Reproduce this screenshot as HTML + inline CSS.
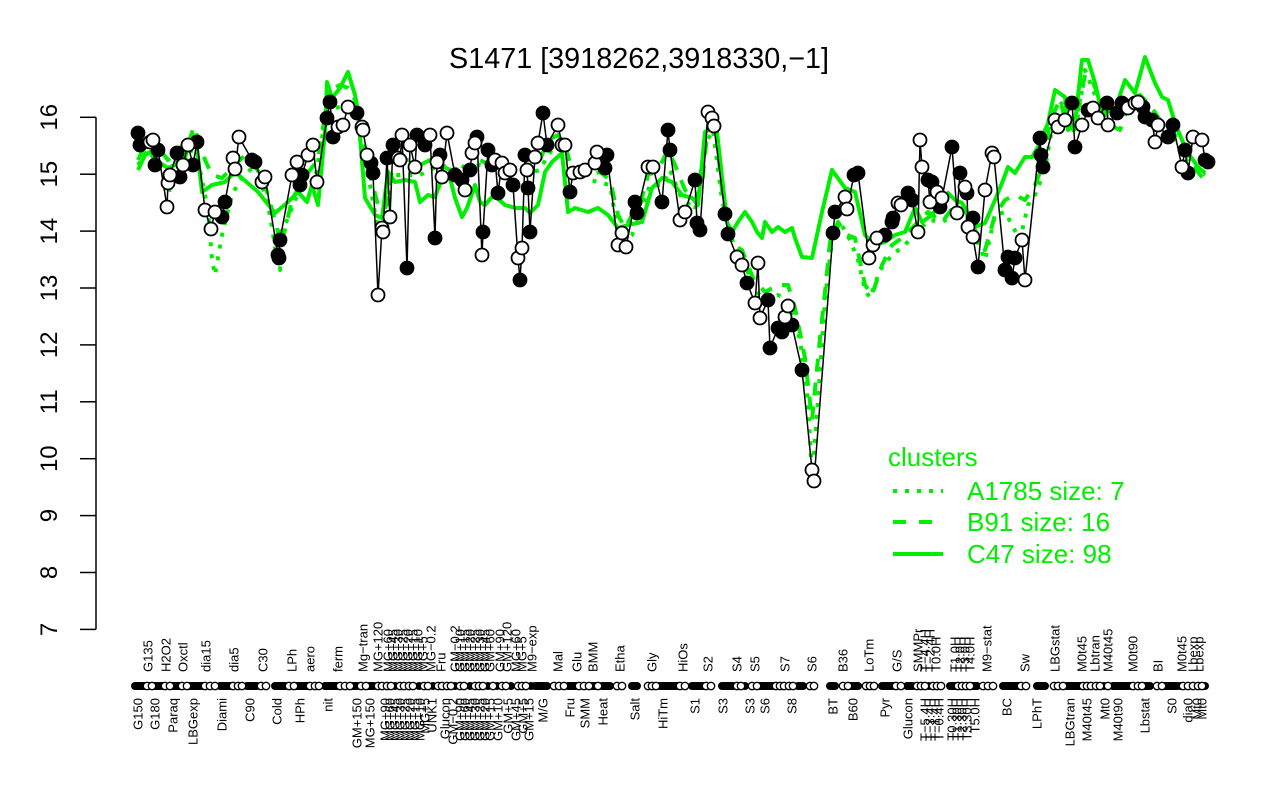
<!DOCTYPE html>
<html><head><meta charset="utf-8"><style>
html,body{margin:0;padding:0;background:#fff}
svg{display:block}
text{font-family:"Liberation Sans",Arial,sans-serif}
</style></head><body>
<svg width="1280" height="800" viewBox="0 0 1280 800" xmlns="http://www.w3.org/2000/svg">
<rect width="1280" height="800" fill="#fff"/>
<text x="449" y="68" font-size="28.8" textLength="380" lengthAdjust="spacingAndGlyphs">S1471 [3918262,3918330,−1]</text>

<!-- y axis -->
<g stroke="#000" stroke-width="1.5" fill="none">
<line x1="96" y1="117.3" x2="96" y2="629.4"/>
<line x1="80" y1="117.3" x2="96" y2="117.3"/><line x1="80" y1="174.2" x2="96" y2="174.2"/>
<line x1="80" y1="231.1" x2="96" y2="231.1"/><line x1="80" y1="288" x2="96" y2="288"/>
<line x1="80" y1="344.9" x2="96" y2="344.9"/><line x1="80" y1="401.8" x2="96" y2="401.8"/>
<line x1="80" y1="458.7" x2="96" y2="458.7"/><line x1="80" y1="515.6" x2="96" y2="515.6"/>
<line x1="80" y1="572.5" x2="96" y2="572.5"/><line x1="80" y1="629.4" x2="96" y2="629.4"/>
</g>
<g font-size="24" text-anchor="middle">
<text transform="translate(57,117.3) rotate(-90)">16</text>
<text transform="translate(57,174.2) rotate(-90)">15</text>
<text transform="translate(57,231.1) rotate(-90)">14</text>
<text transform="translate(57,288) rotate(-90)">13</text>
<text transform="translate(57,344.9) rotate(-90)">12</text>
<text transform="translate(57,401.8) rotate(-90)">11</text>
<text transform="translate(57,458.7) rotate(-90)">10</text>
<text transform="translate(57,515.6) rotate(-90)">9</text>
<text transform="translate(57,572.5) rotate(-90)">8</text>
<text transform="translate(57,629.4) rotate(-90)">7</text>
</g>

<!-- green cluster lines -->
<g fill="none" stroke="#00ee00" stroke-width="4" stroke-linejoin="round">
<polyline points="138,170 145,155 150,152 158,162 168,168 175,165 178,148 183,165 192,132 197,148 202,192 212,185 225,182 235,172 242,178 258,192 275,213 288,202 298,192 307,202 312,185 318,205 325,132 327,82 332,98 340,88 348,72 355,95 358,112 365,198 375,215 382,218 388,172 395,182 405,180 415,182 420,202 428,195 435,197 442,178 450,178 455,198 462,217 467,208 475,185 480,202 485,205 492,197 497,198 505,205 515,208 525,208 530,213 538,205 545,172 552,162 562,153 568,212 575,208 588,212 598,208 608,215 618,228 628,225 642,222 652,188 662,178 672,182 682,195 692,198 698,205 705,132 712,128 717,132 727,222 732,232 738,222 745,212 752,222 757,232 762,238 765,222 772,232 778,227 785,232 792,228 795,238 802,257 812,258 822,212 832,170 845,188 855,192 865,235 875,245 885,242 895,235 905,232 915,208 922,222 932,215 942,200 948,193 955,200 962,203 968,213 975,227 985,223 995,200 1002,183 1008,167 1015,173 1025,157 1032,157 1038,147 1048,123 1055,90 1065,97 1068,130 1075,123 1082,60 1088,60 1095,83 1102,113 1115,110 1125,80 1135,93 1145,57 1155,83 1162,97 1168,100 1175,123 1182,140 1188,153 1198,167 1205,173"/>
<polyline stroke-dasharray="13,11" points="138,160 145,145 152,135 160,150 168,160 178,150 188,140 197,135 205,160 212,175 222,178 235,165 245,155 255,165 265,185 272,210 278,232 285,230 292,200 300,185 310,170 318,160 325,115 330,90 340,85 348,88 355,100 362,130 370,175 378,205 385,210 392,170 400,160 410,160 420,165 430,160 440,165 450,170 460,165 470,170 480,160 490,165 500,170 510,168 520,170 530,175 540,160 548,140 558,135 565,145 572,170 580,172 590,175 600,172 610,180 618,215 625,228 632,215 640,205 648,175 658,170 668,150 675,165 685,190 695,200 702,185 708,125 715,122 722,190 732,245 742,250 753,278 765,292 778,285 788,285 795,308 805,358 812,420 820,338 825,292 830,242 838,222 847,235 855,238 858,252 865,285 872,295 882,265 892,245 902,238 915,225 928,212 942,222 955,205 965,210 975,230 985,250 995,215 1005,200 1015,195 1025,200 1035,185 1045,160 1050,120 1060,100 1068,130 1075,125 1085,75 1092,80 1100,100 1110,125 1120,130 1130,100 1140,95 1150,105 1160,120 1170,125 1180,145 1190,160 1200,175 1205,180"/>
<polyline stroke-dasharray="4,8" points="138,165 148,150 158,165 170,190 180,170 190,150 200,170 208,210 212,260 215,275 222,235 232,195 240,180 250,170 262,185 270,215 277,260 280,270 285,225 295,200 305,185 315,180 325,120 330,110 345,105 355,112 362,150 370,185 378,230 385,220 392,175 420,175 440,165 460,170 480,165 500,170 520,175 540,170 548,155 560,140 570,165 590,180 610,185 618,232 625,240 632,235 640,215 650,185 662,185 670,170 680,195 695,210 705,145 713,130 722,200 735,250 745,265 755,290 765,300 778,295 788,300 800,340 808,400 812,478 818,400 825,300 832,240 840,222 850,240 858,260 865,290 870,298 880,270 892,255 905,245 918,230 930,220 942,222 955,215 965,225 975,235 985,260 995,215 1005,212 1012,225 1020,240 1028,205 1035,195 1045,170 1055,110 1065,100 1075,135 1085,70 1095,95 1105,130 1115,120 1125,100 1140,100 1150,115 1160,125 1170,130 1180,150 1190,165 1205,175"/>
</g>

<!-- data line -->
<polyline fill="none" stroke="#000" stroke-width="1.5" stroke-linejoin="round" points="138,133 140,145 150,142 153,140 155,165 158,150 167,207 168,183 170,175 177,153 180,177 183,165 188,145 193,165 197,142 205,210 211,229 215,212 222,217 225,202 233,158 235,169 239,137 252,160 255,162 262,182 265,177 278,255 279,258 280,240 292,175 297,162 300,185 302,175 308,155 313,145 317,182 327,118 330,102 333,137 338,127 343,125 348,107 357,113 362,127 363,130 367,155 371,163 373,173 378,295 382,228 383,232 387,158 390,217 393,145 398,158 400,160 402,135 407,268 410,145 415,167 417,135 425,145 430,135 435,238 437,162 440,155 442,177 447,133 455,175 462,180 465,190 470,170 472,153 475,143 477,137 482,255 483,232 488,150 492,165 495,160 498,193 502,163 505,173 510,170 513,185 518,258 520,280 522,248 525,155 527,170 528,188 530,232 535,157 538,143 543,113 547,145 558,125 562,145 565,145 570,192 573,173 580,172 585,170 595,163 597,152 605,168 607,155 618,245 622,233 626,247 635,202 637,213 648,167 653,167 662,202 668,130 670,150 680,220 685,212 695,180 697,223 700,230 708,112 712,118 714,126 725,214 728,234 737,257 742,265 747,283 755,303 758,263 760,318 768,300 770,348 778,328 782,332 785,317 788,306 792,325 802,370 812,470 814,481 833,233 835,212 845,197 847,209 854,175 858,173 869,258 873,245 877,238 885,235 892,222 893,218 898,203 901,205 908,193 912,200 918,232 920,140 922,167 928,180 930,202 932,182 937,192 940,207 942,198 952,147 957,213 960,173 965,187 967,193 968,227 973,218 973,237 978,267 985,190 992,153 994,157 1005,270 1008,257 1012,278 1015,258 1022,240 1025,280 1040,138 1041,155 1043,167 1055,120 1058,127 1065,120 1072,103 1075,147 1082,125 1088,110 1093,108 1098,118 1107,103 1108,125 1117,113 1122,103 1128,108 1135,103 1138,102 1143,107 1145,117 1152,120 1155,142 1158,125 1168,137 1173,125 1182,167 1185,150 1188,173 1193,137 1202,140 1205,160 1208,162"/>

<!-- data points -->
<g stroke="#000" stroke-width="1.8">
<g fill="#000">
<circle cx="138" cy="133" r="6.5"/><circle cx="140" cy="145" r="6.5"/><circle cx="155" cy="165" r="6.5"/><circle cx="158" cy="150" r="6.5"/><circle cx="177" cy="153" r="6.5"/><circle cx="180" cy="177" r="6.5"/><circle cx="193" cy="165" r="6.5"/><circle cx="197" cy="142" r="6.5"/><circle cx="222" cy="217" r="6.5"/><circle cx="225" cy="202" r="6.5"/><circle cx="252" cy="160" r="6.5"/><circle cx="255" cy="162" r="6.5"/><circle cx="278" cy="255" r="6.5"/><circle cx="279" cy="258" r="6.5"/><circle cx="280" cy="240" r="6.5"/><circle cx="300" cy="185" r="6.5"/><circle cx="302" cy="175" r="6.5"/><circle cx="327" cy="118" r="6.5"/><circle cx="330" cy="102" r="6.5"/><circle cx="333" cy="137" r="6.5"/><circle cx="357" cy="113" r="6.5"/><circle cx="371" cy="163" r="6.5"/><circle cx="373" cy="173" r="6.5"/><circle cx="387" cy="158" r="6.5"/><circle cx="393" cy="145" r="6.5"/><circle cx="407" cy="268" r="6.5"/>
<circle cx="417" cy="135" r="6.5"/><circle cx="425" cy="145" r="6.5"/><circle cx="435" cy="238" r="6.5"/><circle cx="440" cy="155" r="6.5"/><circle cx="455" cy="175" r="6.5"/><circle cx="462" cy="180" r="6.5"/><circle cx="470" cy="170" r="6.5"/><circle cx="477" cy="137" r="6.5"/><circle cx="483" cy="232" r="6.5"/><circle cx="488" cy="150" r="6.5"/><circle cx="492" cy="165" r="6.5"/><circle cx="498" cy="193" r="6.5"/><circle cx="513" cy="185" r="6.5"/><circle cx="520" cy="280" r="6.5"/><circle cx="525" cy="155" r="6.5"/><circle cx="528" cy="188" r="6.5"/><circle cx="530" cy="232" r="6.5"/><circle cx="543" cy="113" r="6.5"/><circle cx="547" cy="145" r="6.5"/><circle cx="570" cy="192" r="6.5"/><circle cx="605" cy="168" r="6.5"/><circle cx="607" cy="155" r="6.5"/><circle cx="635" cy="202" r="6.5"/><circle cx="637" cy="213" r="6.5"/><circle cx="662" cy="202" r="6.5"/><circle cx="668" cy="130" r="6.5"/><circle cx="670" cy="150" r="6.5"/>
<circle cx="695" cy="180" r="6.5"/><circle cx="697" cy="223" r="6.5"/><circle cx="700" cy="230" r="6.5"/><circle cx="725" cy="214" r="6.5"/><circle cx="728" cy="234" r="6.5"/><circle cx="747" cy="283" r="6.5"/><circle cx="768" cy="300" r="6.5"/><circle cx="770" cy="348" r="6.5"/><circle cx="778" cy="328" r="6.5"/><circle cx="782" cy="332" r="6.5"/><circle cx="792" cy="325" r="6.5"/><circle cx="802" cy="370" r="6.5"/><circle cx="833" cy="233" r="6.5"/><circle cx="835" cy="212" r="6.5"/><circle cx="854" cy="175" r="6.5"/><circle cx="858" cy="173" r="6.5"/><circle cx="885" cy="235" r="6.5"/><circle cx="892" cy="222" r="6.5"/><circle cx="893" cy="218" r="6.5"/><circle cx="908" cy="193" r="6.5"/><circle cx="912" cy="200" r="6.5"/><circle cx="928" cy="180" r="6.5"/><circle cx="932" cy="182" r="6.5"/><circle cx="940" cy="207" r="6.5"/>
<circle cx="952" cy="147" r="6.5"/><circle cx="960" cy="173" r="6.5"/><circle cx="967" cy="193" r="6.5"/><circle cx="973" cy="218" r="6.5"/><circle cx="978" cy="267" r="6.5"/><circle cx="1005" cy="270" r="6.5"/><circle cx="1008" cy="257" r="6.5"/><circle cx="1012" cy="278" r="6.5"/><circle cx="1015" cy="258" r="6.5"/><circle cx="1040" cy="138" r="6.5"/><circle cx="1041" cy="155" r="6.5"/><circle cx="1043" cy="167" r="6.5"/><circle cx="1072" cy="103" r="6.5"/><circle cx="1075" cy="147" r="6.5"/><circle cx="1088" cy="110" r="6.5"/><circle cx="1107" cy="103" r="6.5"/><circle cx="1117" cy="113" r="6.5"/><circle cx="1122" cy="103" r="6.5"/><circle cx="1143" cy="107" r="6.5"/><circle cx="1145" cy="117" r="6.5"/><circle cx="1152" cy="120" r="6.5"/><circle cx="1168" cy="137" r="6.5"/><circle cx="1173" cy="125" r="6.5"/><circle cx="1185" cy="150" r="6.5"/><circle cx="1188" cy="173" r="6.5"/><circle cx="1205" cy="160" r="6.5"/><circle cx="1208" cy="162" r="6.5"/>
</g>
<g fill="#fff">
<circle cx="150" cy="142" r="6.5"/><circle cx="153" cy="140" r="6.5"/><circle cx="167" cy="207" r="6.5"/><circle cx="168" cy="183" r="6.5"/><circle cx="170" cy="175" r="6.5"/><circle cx="183" cy="165" r="6.5"/><circle cx="188" cy="145" r="6.5"/><circle cx="205" cy="210" r="6.5"/><circle cx="211" cy="229" r="6.5"/><circle cx="215" cy="212" r="6.5"/><circle cx="233" cy="158" r="6.5"/><circle cx="235" cy="169" r="6.5"/><circle cx="239" cy="137" r="6.5"/><circle cx="262" cy="182" r="6.5"/><circle cx="265" cy="177" r="6.5"/><circle cx="292" cy="175" r="6.5"/><circle cx="297" cy="162" r="6.5"/><circle cx="308" cy="155" r="6.5"/><circle cx="313" cy="145" r="6.5"/><circle cx="317" cy="182" r="6.5"/><circle cx="338" cy="127" r="6.5"/><circle cx="343" cy="125" r="6.5"/><circle cx="348" cy="107" r="6.5"/><circle cx="362" cy="127" r="6.5"/><circle cx="363" cy="130" r="6.5"/><circle cx="367" cy="155" r="6.5"/><circle cx="378" cy="295" r="6.5"/><circle cx="382" cy="228" r="6.5"/><circle cx="383" cy="232" r="6.5"/><circle cx="390" cy="217" r="6.5"/><circle cx="398" cy="158" r="6.5"/><circle cx="400" cy="160" r="6.5"/><circle cx="402" cy="135" r="6.5"/>
<circle cx="410" cy="145" r="6.5"/><circle cx="415" cy="167" r="6.5"/><circle cx="430" cy="135" r="6.5"/><circle cx="437" cy="162" r="6.5"/><circle cx="442" cy="177" r="6.5"/><circle cx="447" cy="133" r="6.5"/><circle cx="465" cy="190" r="6.5"/><circle cx="472" cy="153" r="6.5"/><circle cx="475" cy="143" r="6.5"/><circle cx="482" cy="255" r="6.5"/><circle cx="495" cy="160" r="6.5"/><circle cx="502" cy="163" r="6.5"/><circle cx="505" cy="173" r="6.5"/><circle cx="510" cy="170" r="6.5"/><circle cx="518" cy="258" r="6.5"/><circle cx="522" cy="248" r="6.5"/><circle cx="527" cy="170" r="6.5"/><circle cx="535" cy="157" r="6.5"/><circle cx="538" cy="143" r="6.5"/><circle cx="558" cy="125" r="6.5"/><circle cx="562" cy="145" r="6.5"/><circle cx="565" cy="145" r="6.5"/><circle cx="573" cy="173" r="6.5"/><circle cx="580" cy="172" r="6.5"/><circle cx="585" cy="170" r="6.5"/><circle cx="595" cy="163" r="6.5"/><circle cx="597" cy="152" r="6.5"/><circle cx="618" cy="245" r="6.5"/><circle cx="622" cy="233" r="6.5"/><circle cx="626" cy="247" r="6.5"/><circle cx="648" cy="167" r="6.5"/><circle cx="653" cy="167" r="6.5"/>
<circle cx="680" cy="220" r="6.5"/><circle cx="685" cy="212" r="6.5"/><circle cx="708" cy="112" r="6.5"/><circle cx="712" cy="118" r="6.5"/><circle cx="714" cy="126" r="6.5"/><circle cx="737" cy="257" r="6.5"/><circle cx="742" cy="265" r="6.5"/><circle cx="755" cy="303" r="6.5"/><circle cx="758" cy="263" r="6.5"/><circle cx="760" cy="318" r="6.5"/><circle cx="785" cy="317" r="6.5"/><circle cx="788" cy="306" r="6.5"/><circle cx="812" cy="470" r="6.5"/><circle cx="814" cy="481" r="6.5"/><circle cx="845" cy="197" r="6.5"/><circle cx="847" cy="209" r="6.5"/><circle cx="869" cy="258" r="6.5"/><circle cx="873" cy="245" r="6.5"/><circle cx="877" cy="238" r="6.5"/><circle cx="898" cy="203" r="6.5"/><circle cx="901" cy="205" r="6.5"/><circle cx="918" cy="232" r="6.5"/><circle cx="920" cy="140" r="6.5"/><circle cx="922" cy="167" r="6.5"/><circle cx="930" cy="202" r="6.5"/><circle cx="937" cy="192" r="6.5"/><circle cx="942" cy="198" r="6.5"/>
<circle cx="957" cy="213" r="6.5"/><circle cx="965" cy="187" r="6.5"/><circle cx="968" cy="227" r="6.5"/><circle cx="973" cy="237" r="6.5"/><circle cx="985" cy="190" r="6.5"/><circle cx="992" cy="153" r="6.5"/><circle cx="994" cy="157" r="6.5"/><circle cx="1022" cy="240" r="6.5"/><circle cx="1025" cy="280" r="6.5"/><circle cx="1055" cy="120" r="6.5"/><circle cx="1058" cy="127" r="6.5"/><circle cx="1065" cy="120" r="6.5"/><circle cx="1082" cy="125" r="6.5"/><circle cx="1093" cy="108" r="6.5"/><circle cx="1098" cy="118" r="6.5"/><circle cx="1108" cy="125" r="6.5"/><circle cx="1128" cy="108" r="6.5"/><circle cx="1135" cy="103" r="6.5"/><circle cx="1138" cy="102" r="6.5"/><circle cx="1155" cy="142" r="6.5"/><circle cx="1158" cy="125" r="6.5"/><circle cx="1182" cy="167" r="6.5"/><circle cx="1193" cy="137" r="6.5"/><circle cx="1202" cy="140" r="6.5"/>
</g>
</g>

<!-- legend -->
<g fill="#00ee00" font-size="26">
<text x="888" y="466">clusters</text>
<text x="967" y="500">A1785 size: 7</text>
<text x="967" y="531">B91 size: 16</text>
<text x="967" y="563">C47 size: 98</text>
</g>
<g stroke="#00ee00" stroke-width="4" fill="none">
<line x1="893" y1="491" x2="943" y2="491" stroke-dasharray="4,8"/>
<line x1="893" y1="522" x2="943" y2="522" stroke-dasharray="13,13"/>
<line x1="893" y1="554" x2="943" y2="554"/>
</g>

<!-- marker row -->
<g fill="#000">
<rect x="131" y="682" width="35" height="8" rx="4"/>
<rect x="169" y="682" width="15" height="8" rx="4"/>
<rect x="184" y="682" width="22" height="8" rx="4"/>
<rect x="216" y="682" width="18" height="8" rx="4"/>
<rect x="243" y="682" width="18" height="8" rx="4"/>
<rect x="271" y="682" width="18" height="8" rx="4"/>
<rect x="293" y="682" width="18" height="8" rx="4"/>
<rect x="321" y="682" width="20" height="8" rx="4"/>
<rect x="349" y="682" width="12" height="8" rx="4"/>
<rect x="365" y="682" width="13" height="8" rx="4"/>
<rect x="531" y="682" width="20" height="8" rx="4"/>
<rect x="564" y="682" width="16" height="8" rx="4"/>
<rect x="588" y="682" width="12" height="8" rx="4"/>
<rect x="598" y="682" width="16" height="8" rx="4"/>
<rect x="628" y="682" width="13" height="8" rx="4"/>
<rect x="656" y="682" width="25" height="8" rx="4"/>
<rect x="688" y="682" width="19" height="8" rx="4"/>
<rect x="718" y="682" width="19" height="8" rx="4"/>
<rect x="741" y="682" width="8" height="8" rx="4"/>
<rect x="756" y="682" width="21" height="8" rx="4"/>
<rect x="794" y="682" width="13" height="8" rx="4"/>
<rect x="826" y="682" width="13" height="8" rx="4"/>
<rect x="846" y="682" width="16" height="8" rx="4"/>
<rect x="878" y="682" width="19" height="8" rx="4"/>
<rect x="903" y="682" width="14" height="8" rx="4"/>
<rect x="925" y="682" width="8" height="8" rx="4"/>
<rect x="946" y="682" width="35" height="8" rx="4"/>
<rect x="999" y="682" width="23" height="8" rx="4"/>
<rect x="1033" y="682" width="16" height="8" rx="4"/>
<rect x="1063" y="682" width="21" height="8" rx="4"/>
<rect x="1100" y="682" width="8" height="8" rx="4"/>
<rect x="1109" y="682" width="25" height="8" rx="4"/>
<rect x="1141" y="682" width="13" height="8" rx="4"/>
<rect x="1161" y="682" width="20" height="8" rx="4"/>
<rect x="1176" y="682" width="8" height="8" rx="4"/>
<rect x="1201" y="682" width="8" height="8" rx="4"/>
<circle cx="395" cy="686" r="4"/><circle cx="419" cy="686" r="4"/><circle cx="433" cy="686" r="4"/><circle cx="455" cy="686" r="4"/><circle cx="470" cy="686" r="4"/><circle cx="488" cy="686" r="4"/><circle cx="497" cy="686" r="4"/><circle cx="511" cy="686" r="4"/><circle cx="531" cy="686" r="4"/>
</g>
<g fill="#fff" stroke="#000" stroke-width="1.3">
<circle cx="147" cy="686" r="3.7"/><circle cx="152" cy="686" r="3.7"/><circle cx="165" cy="686" r="3.7"/><circle cx="170" cy="686" r="3.7"/><circle cx="182" cy="686" r="3.7"/><circle cx="187" cy="686" r="3.7"/><circle cx="205" cy="686" r="3.7"/><circle cx="210" cy="686" r="3.7"/><circle cx="215" cy="686" r="3.7"/><circle cx="233" cy="686" r="3.7"/><circle cx="238" cy="686" r="3.7"/><circle cx="242" cy="686" r="3.7"/><circle cx="261" cy="686" r="3.7"/><circle cx="266" cy="686" r="3.7"/><circle cx="289" cy="686" r="3.7"/><circle cx="294" cy="686" r="3.7"/><circle cx="310" cy="686" r="3.7"/><circle cx="315" cy="686" r="3.7"/><circle cx="319" cy="686" r="3.7"/><circle cx="340" cy="686" r="3.7"/><circle cx="345" cy="686" r="3.7"/><circle cx="350" cy="686" r="3.7"/><circle cx="361" cy="686" r="3.7"/><circle cx="366" cy="686" r="3.7"/><circle cx="378" cy="686" r="3.7"/><circle cx="382" cy="686" r="3.7"/>
<circle cx="387" cy="686" r="3.7"/><circle cx="391" cy="686" r="3.7"/><circle cx="400" cy="686" r="3.7"/><circle cx="404" cy="686" r="3.7"/><circle cx="409" cy="686" r="3.7"/><circle cx="413" cy="686" r="3.7"/><circle cx="424" cy="686" r="3.7"/><circle cx="428" cy="686" r="3.7"/><circle cx="438" cy="686" r="3.7"/><circle cx="442" cy="686" r="3.7"/><circle cx="447" cy="686" r="3.7"/><circle cx="451" cy="686" r="3.7"/><circle cx="460" cy="686" r="3.7"/><circle cx="464" cy="686" r="3.7"/><circle cx="475" cy="686" r="3.7"/><circle cx="479" cy="686" r="3.7"/><circle cx="483" cy="686" r="3.7"/><circle cx="493" cy="686" r="3.7"/><circle cx="502" cy="686" r="3.7"/><circle cx="506" cy="686" r="3.7"/><circle cx="518" cy="686" r="3.7"/><circle cx="522" cy="686" r="3.7"/><circle cx="526" cy="686" r="3.7"/>
<circle cx="554" cy="686" r="3.7"/><circle cx="559" cy="686" r="3.7"/><circle cx="564" cy="686" r="3.7"/><circle cx="579" cy="686" r="3.7"/><circle cx="584" cy="686" r="3.7"/><circle cx="589" cy="686" r="3.7"/><circle cx="598" cy="686" r="3.7"/><circle cx="617" cy="686" r="3.7"/><circle cx="622" cy="686" r="3.7"/><circle cx="648" cy="686" r="3.7"/><circle cx="652" cy="686" r="3.7"/><circle cx="656" cy="686" r="3.7"/><circle cx="680" cy="686" r="3.7"/><circle cx="685" cy="686" r="3.7"/><circle cx="706" cy="686" r="3.7"/><circle cx="711" cy="686" r="3.7"/><circle cx="737" cy="686" r="3.7"/><circle cx="741" cy="686" r="3.7"/><circle cx="752" cy="686" r="3.7"/><circle cx="757" cy="686" r="3.7"/><circle cx="776" cy="686" r="3.7"/><circle cx="780" cy="686" r="3.7"/><circle cx="784" cy="686" r="3.7"/><circle cx="789" cy="686" r="3.7"/><circle cx="793" cy="686" r="3.7"/><circle cx="810" cy="686" r="3.7"/><circle cx="814" cy="686" r="3.7"/><circle cx="843" cy="686" r="3.7"/><circle cx="848" cy="686" r="3.7"/><circle cx="866" cy="686" r="3.7"/><circle cx="870" cy="686" r="3.7"/><circle cx="874" cy="686" r="3.7"/><circle cx="896" cy="686" r="3.7"/><circle cx="901" cy="686" r="3.7"/>
<circle cx="917" cy="686" r="3.7"/><circle cx="921" cy="686" r="3.7"/><circle cx="925" cy="686" r="3.7"/><circle cx="933" cy="686" r="3.7"/><circle cx="937" cy="686" r="3.7"/><circle cx="941" cy="686" r="3.7"/><circle cx="958" cy="686" r="3.7"/><circle cx="962" cy="686" r="3.7"/><circle cx="966" cy="686" r="3.7"/><circle cx="970" cy="686" r="3.7"/><circle cx="983" cy="686" r="3.7"/><circle cx="988" cy="686" r="3.7"/><circle cx="993" cy="686" r="3.7"/><circle cx="1021" cy="686" r="3.7"/><circle cx="1026" cy="686" r="3.7"/><circle cx="1054" cy="686" r="3.7"/><circle cx="1058" cy="686" r="3.7"/><circle cx="1063" cy="686" r="3.7"/><circle cx="1083" cy="686" r="3.7"/><circle cx="1087" cy="686" r="3.7"/><circle cx="1091" cy="686" r="3.7"/><circle cx="1096" cy="686" r="3.7"/><circle cx="1100" cy="686" r="3.7"/><circle cx="1108" cy="686" r="3.7"/><circle cx="1133" cy="686" r="3.7"/><circle cx="1138" cy="686" r="3.7"/><circle cx="1142" cy="686" r="3.7"/><circle cx="1157" cy="686" r="3.7"/><circle cx="1162" cy="686" r="3.7"/><circle cx="1183" cy="686" r="3.7"/><circle cx="1188" cy="686" r="3.7"/><circle cx="1193" cy="686" r="3.7"/><circle cx="1198" cy="686" r="3.7"/><circle cx="1202" cy="686" r="3.7"/>
</g>

<!-- x labels top row (start at y=672, reading upward) -->
<g font-size="13">
<text transform="translate(152.7,672) rotate(-90)">G135</text>
<text transform="translate(170.7,672) rotate(-90)">H2O2</text>
<text transform="translate(187.7,672) rotate(-90)">Oxctl</text>
<text transform="translate(210.7,672) rotate(-90)">dia15</text>
<text transform="translate(238.7,672) rotate(-90)">dia5</text>
<text transform="translate(267.7,672) rotate(-90)">C30</text>
<text transform="translate(296.7,672) rotate(-90)">LPh</text>
<text transform="translate(314.7,672) rotate(-90)">aero</text>
<text transform="translate(342.7,672) rotate(-90)">ferm</text>
<text transform="translate(367.7,672) rotate(-90)">Mg−tran</text>
<text transform="translate(382.7,672) rotate(-90)">MG+120</text>
<text transform="translate(392.7,672) rotate(-90)">MG+60</text>
<text transform="translate(397.7,672) rotate(-90)">MG+45</text>
<text transform="translate(402.7,672) rotate(-90)">MG+30</text>
<text transform="translate(407.7,672) rotate(-90)">MG+25</text>
<text transform="translate(412.7,672) rotate(-90)">MG+20</text>
<text transform="translate(417.7,672) rotate(-90)">MG+15</text>
<text transform="translate(422.7,672) rotate(-90)">MG+10</text>
<text transform="translate(427.7,672) rotate(-90)">MG+5</text>
<text transform="translate(435.7,672) rotate(-90)">MG−0.2</text>
<text transform="translate(445.7,672) rotate(-90)">Fru</text>
<text transform="translate(459.7,672) rotate(-90)">GM−0.2</text>
<text transform="translate(464.7,672) rotate(-90)">GM+10</text>
<text transform="translate(469.7,672) rotate(-90)">GM+15</text>
<text transform="translate(474.7,672) rotate(-90)">GM+20</text>
<text transform="translate(479.7,672) rotate(-90)">GM+25</text>
<text transform="translate(484.7,672) rotate(-90)">GM+30</text>
<text transform="translate(489.7,672) rotate(-90)">GM+45</text>
<text transform="translate(494.7,672) rotate(-90)">GM+60</text>
<text transform="translate(504.7,672) rotate(-90)">GM+90</text>
<text transform="translate(511.7,672) rotate(-90)">GM+120</text>
<text transform="translate(520.7,672) rotate(-90)">MG+60</text>
<text transform="translate(526.7,672) rotate(-90)">MG+5</text>
<text transform="translate(536.7,672) rotate(-90)">M9−exp</text>
<text transform="translate(562.7,672) rotate(-90)">Mal</text>
<text transform="translate(581.7,672) rotate(-90)">Glu</text>
<text transform="translate(597.7,672) rotate(-90)">BMM</text>
<text transform="translate(624.7,672) rotate(-90)">Etha</text>
<text transform="translate(656.7,672) rotate(-90)">Gly</text>
<text transform="translate(687.7,672) rotate(-90)">HiOs</text>
<text transform="translate(712.7,672) rotate(-90)">S2</text>
<text transform="translate(741.7,672) rotate(-90)">S4</text>
<text transform="translate(759.7,672) rotate(-90)">S5</text>
<text transform="translate(789.7,672) rotate(-90)">S7</text>
<text transform="translate(816.7,672) rotate(-90)">S6</text>
<text transform="translate(847.7,672) rotate(-90)">B36</text>
<text transform="translate(873.7,672) rotate(-90)">LoTm</text>
<text transform="translate(901.7,672) rotate(-90)">G/S</text>
<text transform="translate(922.7,672) rotate(-90)">SMMPr</text>
<text transform="translate(929.7,672) rotate(-90)">T−4.4H</text>
<text transform="translate(934.7,672) rotate(-90)">T−2.4H</text>
<text transform="translate(940.7,672) rotate(-90)">T0.0H</text>
<text transform="translate(959.7,672) rotate(-90)">T1.0H</text>
<text transform="translate(964.7,672) rotate(-90)">T2.0H</text>
<text transform="translate(969.7,672) rotate(-90)">T3.0H</text>
<text transform="translate(974.7,672) rotate(-90)">T4.0H</text>
<text transform="translate(991.7,672) rotate(-90)">M9−stat</text>
<text transform="translate(1029.7,672) rotate(-90)">Sw</text>
<text transform="translate(1059.7,672) rotate(-90)">LBGstat</text>
<text transform="translate(1086.7,672) rotate(-90)">M0t45</text>
<text transform="translate(1099.7,672) rotate(-90)">Lbtran</text>
<text transform="translate(1112.7,672) rotate(-90)">M40t45</text>
<text transform="translate(1137.7,672) rotate(-90)">M0t90</text>
<text transform="translate(1162.7,672) rotate(-90)">BI</text>
<text transform="translate(1186.7,672) rotate(-90)">M0t45</text>
<text transform="translate(1197.7,672) rotate(-90)">Lbexp</text>
<text transform="translate(1203.7,672) rotate(-90)">Lbexp</text>
</g>

<!-- x labels bottom row (end at y=698) -->
<g font-size="13" text-anchor="end">
<text transform="translate(142.7,698) rotate(-90)">G150</text>
<text transform="translate(159.7,698) rotate(-90)">G180</text>
<text transform="translate(177.7,698) rotate(-90)">Paraq</text>
<text transform="translate(197.7,698) rotate(-90)">LBGexp</text>
<text transform="translate(226.7,698) rotate(-90)">Diami</text>
<text transform="translate(254.7,698) rotate(-90)">C90</text>
<text transform="translate(281.7,698) rotate(-90)">Cold</text>
<text transform="translate(304.7,698) rotate(-90)">HPh</text>
<text transform="translate(332.7,698) rotate(-90)">nit</text>
<text transform="translate(361.7,698) rotate(-90)">GM+150</text>
<text transform="translate(374.7,698) rotate(-90)">MG+150</text>
<text transform="translate(389.7,698) rotate(-90)">MG+90</text>
<text transform="translate(394.7,698) rotate(-90)">MG+60</text>
<text transform="translate(399.7,698) rotate(-90)">MG+45</text>
<text transform="translate(404.7,698) rotate(-90)">MG+30</text>
<text transform="translate(409.7,698) rotate(-90)">MG+25</text>
<text transform="translate(414.7,698) rotate(-90)">MG+20</text>
<text transform="translate(419.7,698) rotate(-90)">MG+15</text>
<text transform="translate(424.7,698) rotate(-90)">MG+10</text>
<text transform="translate(429.7,698) rotate(-90)">MG+5</text>
<text transform="translate(436.7,698) rotate(-90)">UNK1</text>
<text transform="translate(449.7,698) rotate(-90)">Glucon</text>
<text transform="translate(457.7,698) rotate(-90)">GM−0.2</text>
<text transform="translate(464.7,698) rotate(-90)">GM+90</text>
<text transform="translate(469.7,698) rotate(-90)">GM+60</text>
<text transform="translate(474.7,698) rotate(-90)">GM+45</text>
<text transform="translate(479.7,698) rotate(-90)">GM+30</text>
<text transform="translate(484.7,698) rotate(-90)">GM+25</text>
<text transform="translate(489.7,698) rotate(-90)">GM+20</text>
<text transform="translate(494.7,698) rotate(-90)">GM+15</text>
<text transform="translate(502.7,698) rotate(-90)">GM+10</text>
<text transform="translate(512.7,698) rotate(-90)">GM+5</text>
<text transform="translate(520.7,698) rotate(-90)">GM+45</text>
<text transform="translate(527.7,698) rotate(-90)">GM+5</text>
<text transform="translate(533.7,698) rotate(-90)">GM+15</text>
<text transform="translate(547.7,698) rotate(-90)">M/G</text>
<text transform="translate(574.7,698) rotate(-90)">Fru</text>
<text transform="translate(589.7,698) rotate(-90)">SMM</text>
<text transform="translate(607.7,698) rotate(-90)">Heat</text>
<text transform="translate(639.7,698) rotate(-90)">Salt</text>
<text transform="translate(667.7,698) rotate(-90)">HiTm</text>
<text transform="translate(699.7,698) rotate(-90)">S1</text>
<text transform="translate(727.7,698) rotate(-90)">S3</text>
<text transform="translate(754.7,698) rotate(-90)">S3</text>
<text transform="translate(769.7,698) rotate(-90)">S6</text>
<text transform="translate(796.7,698) rotate(-90)">S8</text>
<text transform="translate(837.7,698) rotate(-90)">BT</text>
<text transform="translate(857.7,698) rotate(-90)">B60</text>
<text transform="translate(889.7,698) rotate(-90)">Pyr</text>
<text transform="translate(912.7,698) rotate(-90)">Glucon</text>
<text transform="translate(929.7,698) rotate(-90)">T−5.4H</text>
<text transform="translate(934.7,698) rotate(-90)">T−3.4H</text>
<text transform="translate(939.7,698) rotate(-90)">T−1.4H</text>
<text transform="translate(943.7,698) rotate(-90)">T−0.4H</text>
<text transform="translate(956.7,698) rotate(-90)">T0.30H</text>
<text transform="translate(961.7,698) rotate(-90)">T1.30H</text>
<text transform="translate(966.7,698) rotate(-90)">T2.30H</text>
<text transform="translate(971.7,698) rotate(-90)">T3.30H</text>
<text transform="translate(979.7,698) rotate(-90)">T5.0H</text>
<text transform="translate(1011.7,698) rotate(-90)">BC</text>
<text transform="translate(1041.7,698) rotate(-90)">LPhT</text>
<text transform="translate(1074.7,698) rotate(-90)">LBGtran</text>
<text transform="translate(1091.7,698) rotate(-90)">M40t45</text>
<text transform="translate(1109.7,698) rotate(-90)">Mt0</text>
<text transform="translate(1122.7,698) rotate(-90)">M40t90</text>
<text transform="translate(1149.7,698) rotate(-90)">Lbstat</text>
<text transform="translate(1176.7,698) rotate(-90)">S0</text>
<text transform="translate(1192.7,698) rotate(-90)">dia0</text>
<text transform="translate(1201.7,698) rotate(-90)">Mt0</text>
<text transform="translate(1206.7,698) rotate(-90)">Mt0</text>
</g>
</svg>
</body></html>
